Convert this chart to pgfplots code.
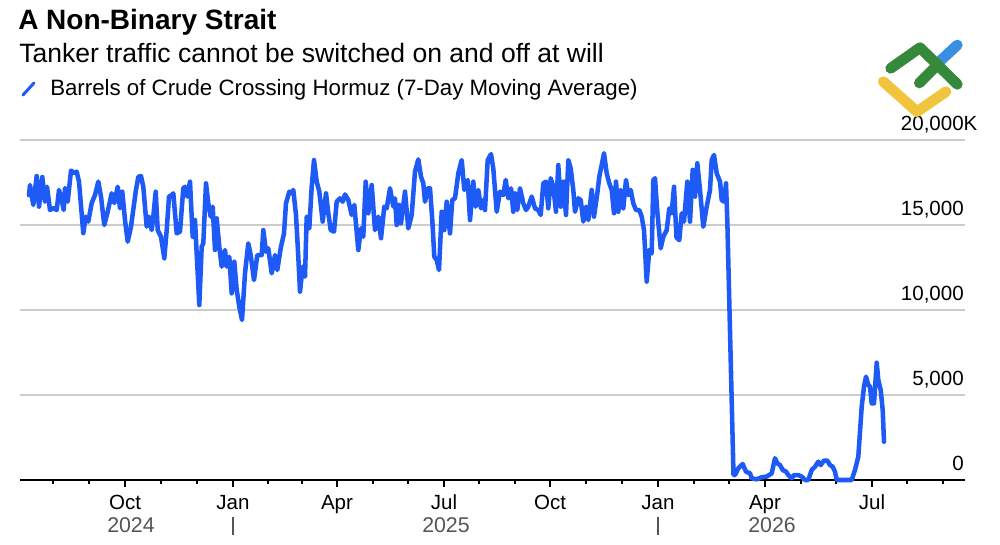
\documentclass[border=0pt]{standalone}
\usepackage{pgfplots}
\usepackage{pgfplotstable}
\pgfplotsset{compat=1.18}
\usepackage{fontspec}
\setmainfont{Liberation Sans}
\definecolor{lineblue}{RGB}{30,90,245}
\definecolor{gridgray}{RGB}{204,204,204}
\definecolor{yeargray}{RGB}{85,85,85}
\definecolor{logogreen}{RGB}{52,138,58}
\definecolor{logoyellow}{RGB}{240,196,60}
\definecolor{logoblue}{RGB}{59,143,224}

% t: horizontal position on the time axis (Oct 2024 = 125, Jan 2025 = 233, ..., Jul 2026 = 872)
% v: barrels of crude crossing Hormuz, 7-day moving average (thousands)
\pgfplotstableread{
t v
29 16760
30 17350
33.3 16180
36.7 17880
39 16080
42.3 17820
45 16370
47 17250
50 15880
53.3 16000
56.7 15880
59 17060
61.7 16470
63.7 15880
65 17180
67.7 16370
71 18200
74.3 18060
76.7 18140
79 17550
83.3 14520
85.7 15490
88.3 15200
91.7 16290
95 16760
98.3 17550
101 16670
104.3 15000
107.7 15780
111.7 16860
114.3 16290
117.7 17250
120 15980
122.3 16960
125 15290
127.7 14020
131 14900
135.7 16960
138.3 17840
141 17880
143.3 17250
146.7 14900
149 15490
151.7 14700
153.3 15490
155.7 16960
157.7 14700
161 14310
164.3 13040
166.7 14700
169 16670
171.7 16760
173.3 16860
176.7 14510
180 14610
183.3 17160
185 17250
187.3 16670
190 17550
192.7 14310
195 15290
199.3 10290
201.7 13720
203.3 13920
206 17450
208.3 16270
210.7 15490
212.7 16080
215 13530
216.7 15390
219.3 13720
221.7 12550
225 13530
226.7 12550
229.3 13130
231.7 10980
234.3 12840
236.7 11180
239.3 10190
242 9410
245 12160
248.3 13920
250.7 13230
254 11760
257.3 13230
261.7 13230
263.3 14700
266 13430
268.3 13630
271.7 12160
275 13230
277.3 12350
280.7 13630
284 14510
286 16270
289.3 16960
291.7 16860
293.3 17060
296 15590
298.3 13130
300 11080
302.7 12550
305 11960
306.7 15490
309.3 14800
311.7 17250
314 18820
316.7 17550
319.3 16960
322.7 15200
326 16860
328.3 15690
330.7 14700
334 14610
336.7 16370
340 16570
342.7 16370
345 16800
348.3 16470
351.7 15590
354.3 16180
358.3 13530
361 14800
363.3 14310
365.7 17550
368.3 15690
371.7 17350
375 14700
378.3 15490
381 14220
384.3 16080
386.7 15980
390 17160
393.3 16080
395 16570
396.7 15000
399 16180
401 15100
405 16960
408.3 14800
411.7 15590
415 18140
418.3 18860
421 17840
423.3 17450
425 16370
427.7 17160
430 17160
432.3 15290
434.3 13130
436.7 12940
439 12350
441.7 15780
444.3 14700
446.7 16370
450 14510
452.3 16470
455 16570
458.3 18040
461.7 18820
464.3 17060
467.7 17650
470 15290
473.3 17550
475.7 16080
478.3 17060
481 15980
483.3 16470
485 15880
487.7 18820
491 19170
493.3 18330
496.7 15780
500 16960
503.3 16760
505.7 17650
508.3 16570
511 17160
513.3 15780
515 16860
517.3 15880
520 17160
523.3 16270
526 15880
528.3 16080
531.7 16670
535 15980
538.3 15880
540.7 15590
543.3 17450
546 17550
548.3 15980
550.7 17750
553.3 17250
556 15780
558.3 18530
560.7 16080
563.3 17550
566 15590
568.3 18820
570.7 18330
573.3 17060
575 15780
578.3 16570
580.7 16470
583.3 15200
586 16080
588.3 15290
591.7 17060
594 15490
597.3 16860
599.3 17840
601.7 18530
604 19220
606.7 18040
609.3 17450
611.7 17060
614 15690
616 17550
618.3 15780
620.7 17060
623.3 15980
626 17650
628.3 16760
630.7 17060
633.3 16270
636 15880
639.3 15880
641.7 15490
644 14700
646.7 11670
649.3 13530
651.7 13330
653.3 17650
655 17750
657.3 15780
660.7 13630
663.3 14310
666.7 14700
669.3 15980
671.7 15690
674 17250
676.5 14260
679.3 14110
681.7 15690
684 15200
687.3 17550
690 15200
692.7 18240
695 16670
697.3 18630
700 17060
703.3 14900
706.7 16080
710 17060
711.7 18820
714 19120
716.7 18040
720 17550
721.7 16470
724 16370
726 17450
727.3 15290
733.5 300
735 290
738.3 690
742.7 940
746 490
750 390
751.7 100
756.7 40
761.7 160
766.7 200
771.7 390
775 1280
777.3 980
780 880
782.7 590
786 490
788.3 290
791.7 100
794 290
798.3 290
801.7 200
805 0
808.3 0
811.7 590
815 780
818.3 1080
820.7 880
824 1140
827.3 1140
830 880
832.7 780
835 490
836.7 0
851.7 0
855 590
858.3 1370
861.7 4310
864 5490
866 6080
868.3 5590
870 5490
871.7 4510
874 4510
876.7 6900
878.3 5880
880.7 5290
882.7 4120
884 2250
}\hormuz

\begin{document}
\begin{tikzpicture}
\path[use as bounding box] (0,0) rectangle (750pt,408.75pt);

\node[anchor=base west, inner sep=0pt, font=\fontsize{21}{25}\selectfont\bfseries] at (13.5pt,386.25pt) {A Non-Binary Strait};
\node[anchor=base west, inner sep=0pt, font=\fontsize{19.9}{24}\selectfont] at (14.25pt,361.5pt) {Tanker traffic cannot be switched on and off at will};
\draw[lineblue, line width=2.25pt, line cap=round] (17.25pt,337.5pt) -- (25.5pt,346.5pt);
\node[anchor=base west, inner sep=0pt, font=\fontsize{16.7}{20}\selectfont] at (37.5pt,336.75pt) {Barrels of Crude Crossing Hormuz (7-Day Moving Average)};

\begin{axis}[
  at={(15pt,48.75pt)}, anchor=south west,
  width=708.75pt, height=255pt, scale only axis,
  xmin=20, xmax=965, ymin=0, ymax=20000,
  clip=false,
  axis x line*=bottom, axis y line*=right,
  y axis line style={draw=none},
  x axis line style={black, line width=1pt},
  xtick={125,233,337,444,550,658,765,872},
  xticklabels={Oct,Jan,Apr,Jul,Oct,Jan,Apr,Jul},
  minor xtick={53,89,161,197,268,302,373,408,479,515,586,622,694,729,801,836,907,943},
  tick align=outside,
  major tick length=5.25pt, minor tick length=3pt,
  every tick/.style={black, line width=0.9pt},
  xticklabel style={font=\fontsize{15.4}{18}\selectfont, anchor=base, inner sep=0pt, yshift=-17pt},
  ytick={0,5000,10000,15000,20000},
  yticklabels={0,{5,000},{10,000},{15,000},{20,000\rlap{K}}},
  ytick style={draw=none},
  y tick label style={font=\fontsize{15.4}{18}\selectfont, anchor=base east, inner sep=0pt, xshift=-6pt, yshift=7pt},
  ymajorgrids, grid style={gridgray, line width=0.9pt},
  scaled y ticks=false,
]
\addplot[lineblue, line width=3.4pt, line join=round, line cap=round] table[x=t, y=v] {\hormuz};

\node[anchor=base, inner sep=0pt, font=\fontsize{16}{19}\selectfont, text=yeargray, yshift=-39.5pt] at (axis cs:131,0) {2024};
\node[anchor=base, inner sep=0pt, font=\fontsize{16}{19}\selectfont, text=yeargray, yshift=-39.5pt] at (axis cs:446,0) {2025};
\node[anchor=base, inner sep=0pt, font=\fontsize{16}{19}\selectfont, text=yeargray, yshift=-39.5pt] at (axis cs:772,0) {2026};
\draw[yeargray, line width=0.9pt] ([yshift=-27.75pt]axis cs:233,0) -- ([yshift=-41.25pt]axis cs:233,0);
\draw[yeargray, line width=0.9pt] ([yshift=-27.75pt]axis cs:658,0) -- ([yshift=-41.25pt]axis cs:658,0);
\end{axis}

% logo
\draw[logoblue, line width=8pt, line cap=round] (704pt,362pt) -- (718pt,375pt);
\draw[logogreen, line width=8pt, line cap=round, line join=round] (668pt,357.5pt) -- (690pt,373pt) -- (718pt,345.5pt);
\draw[logogreen, line width=8pt, line cap=round] (689.5pt,346.5pt) -- (703.5pt,360.5pt);
\draw[logoyellow, line width=8pt, line cap=round, line join=round] (662.5pt,347.5pt) -- (687.75pt,325pt) -- (709.5pt,340pt);
\end{tikzpicture}
\end{document}
